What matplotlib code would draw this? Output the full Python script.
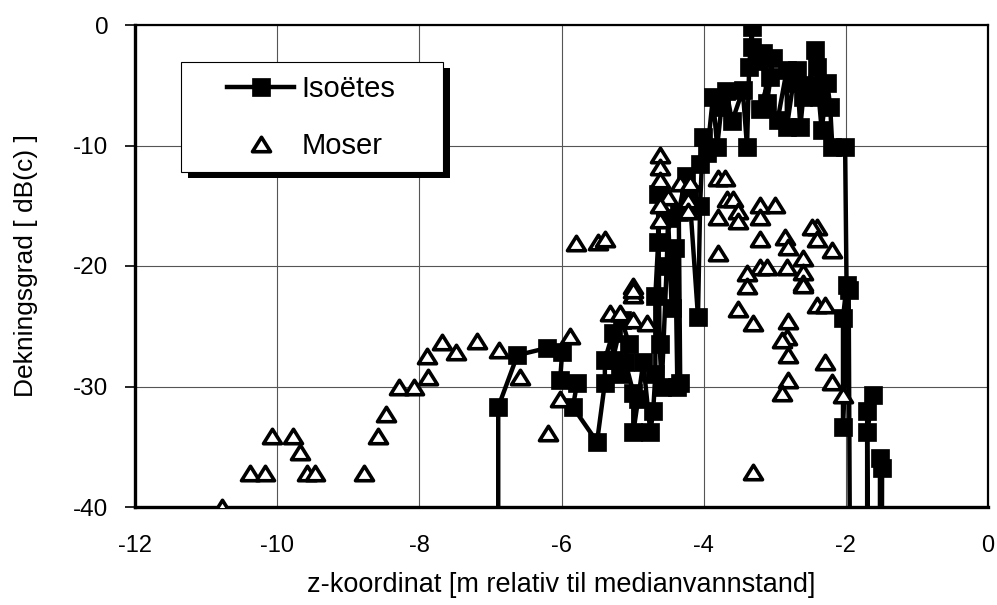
import matplotlib
matplotlib.use('Agg')
import matplotlib.pyplot as plt
import matplotlib.patches as mpatches
from matplotlib.path import Path

plt.rcParams['font.family'] = ['Liberation Sans', 'DejaVu Sans']
plt.rcParams['axes.unicode_minus'] = False

# Isoëtes (connected series, values below -40 run off the bottom of the axes)
iso_x = [-6.89, -6.89, -6.62, -6.20, -5.99, -6.02, -5.78, -5.84, -5.50, -5.39,
         -5.39, -5.28, -5.28, -5.15, -5.05, -5.18, -5.10, -4.99, -4.99, -4.92,
         -4.85, -4.75, -4.71, -4.68, -4.68, -4.64, -4.64, -4.62, -4.59, -4.52,
         -4.50, -4.45, -4.40, -4.37, -4.33, -4.35, -4.25, -4.20, -4.08, -4.05,
         -4.01, -4.05, -3.95, -3.87, -3.81, -3.75, -3.68, -3.60, -3.45, -3.39,
         -3.36, -3.32, -3.32, -3.22, -3.16, -3.11, -3.02, -3.07, -3.21, -2.96,
         -2.83, -2.83, -2.74, -2.69, -2.64, -2.60, -2.52, -2.43, -2.41, -2.38,
         -2.34, -2.26, -2.22, -2.19, -2.01, -1.99, -2.04, -2.04, -1.96, -1.93,
         -1.70, -1.70, -1.62, -1.70, -1.68, -1.52, -1.52, -1.49, -1.50]
iso_y = [-60.0, -31.7, -27.4, -26.8, -27.1, -29.5, -29.7, -31.7, -34.6, -29.7,
         -27.8, -25.6, -27.8, -24.5, -26.5, -29.0, -28.0, -30.5, -33.8, -31.0,
         -28.0, -33.8, -32.0, -29.0, -22.5, -18.0, -14.0, -26.5, -30.0, -20.0,
         -16.0, -23.5, -18.5, -30.0, -29.7, -15.5, -12.5, -14.0, -24.2, -15.0,
         -9.3, -11.5, -10.6, -6.0, -10.1, -6.8, -5.5, -8.0, -5.4, -10.1,
         -3.5, -0.2, -1.8, -3.0, -2.3, -6.5, -2.7, -4.3, -7.0, -7.9,
         -3.7, -8.5, -4.8, -3.7, -8.5, -6.0, -5.0, -2.1, -3.5, -6.0,
         -8.7, -4.8, -6.8, -10.1, -10.1, -21.6, -24.3, -33.4, -22.0, -60.0,
         -60.0, -32.0, -30.7, -33.8, -60.0, -60.0, -35.9, -36.8, -60.0]

# Moser (points only)
moser_x = [-10.78, -10.38, -10.17, -10.07, -9.78, -9.68, -9.58, -9.47, -8.78, -8.58,
           -8.47, -8.29, -8.07, -7.88, -7.89, -7.68, -7.49, -7.19, -6.88, -6.58,
           -6.19, -6.02, -5.88, -5.80, -5.49, -5.39, -5.32, -5.18, -4.99, -4.99,
           -4.80, -4.99, -4.61, -4.61, -4.61, -4.50, -4.61, -4.61, -4.33, -4.19,
           -4.22, -4.22, -3.80, -3.70, -3.67, -3.59, -3.52, -3.80, -3.52, -3.21,
           -3.00, -3.21, -3.21, -2.86, -2.81, -2.41, -2.48, -2.41, -2.19, -3.80,
           -3.21, -3.11, -3.39, -3.39, -2.83, -2.60, -2.60, -2.60, -4.99, -2.60,
           -3.52, -3.31, -2.41, -2.29, -2.81, -2.83, -2.90, -2.81, -2.29, -2.19,
           -2.81, -2.90, -3.31, -2.04]
moser_y = [-40.0, -37.2, -37.2, -34.1, -34.1, -35.4, -37.2, -37.2, -37.2, -34.1,
           -32.3, -30.0, -30.0, -29.2, -27.5, -26.3, -27.1, -26.2, -27.0, -29.2,
           -33.9, -31.0, -25.8, -18.1, -18.0, -17.8, -23.9, -23.9, -22.4, -24.5,
           -24.7, -21.7, -10.8, -11.8, -12.9, -14.3, -14.9, -16.2, -13.1, -13.1,
           -14.5, -15.4, -12.7, -12.7, -14.4, -14.4, -15.4, -15.9, -16.3, -14.9,
           -14.9, -15.9, -17.8, -17.6, -18.4, -16.8, -16.8, -17.8, -18.7, -18.9,
           -20.1, -20.1, -20.6, -21.7, -20.1, -19.3, -20.5, -21.4, -22.0, -21.6,
           -23.6, -24.7, -23.2, -23.2, -24.6, -25.9, -26.1, -27.4, -28.0, -29.6,
           -29.5, -30.5, -37.1, -30.7]

x_ticks = [-12, -10, -8, -6, -4, -2, 0]
y_ticks = [-40, -30, -20, -10, 0]

tri = Path([(-1, -0.8), (1, -0.8), (0, 0.8), (-1, -0.8)], closed=True)

fig = plt.figure(figsize=(9.97, 6.05), dpi=100)
ax = fig.add_axes([135 / 997, 1 - 507 / 605, 853 / 997, 482 / 605])

ax.plot(iso_x, iso_y, color='black', lw=3.2, marker='s', ms=12.5, mew=0.5,
        mec='black', mfc='black', label='Isoëtes', zorder=3)
ax.plot(moser_x, moser_y, ls='none', marker=tri, ms=13, mew=2.6,
        mec='black', mfc='white', label='Moser', zorder=4)

ax.set_xlim(-12, 0)
ax.set_ylim(-40, 0)
ax.set_xticks(x_ticks)
ax.set_yticks(y_ticks)
ax.grid(True, color='#555555', lw=0.8)
ax.set_axisbelow(True)
ax.tick_params(axis='x', length=0, pad=20, labelsize=17)
ax.tick_params(axis='y', length=7, width=1.2, pad=12, labelsize=17.5)
for s in ['left', 'bottom']:
    ax.spines[s].set_linewidth(2.4)
for s in ['top', 'right']:
    ax.spines[s].set_linewidth(1.6)

ax.set_xlabel('z-koordinat [m relativ til medianvannstand]', fontsize=19.5)
ax.xaxis.set_label_coords(0.5, -0.135)
ax.set_ylabel('Dekningsgrad [ dB(c) ]', fontsize=19, va='center')
ax.yaxis.set_label_coords(-0.128, 0.5)

# legend box with a solid shadow
bx, by, bw, bh = 0.054, 0.695, 0.307, 0.228
ax.add_patch(mpatches.Rectangle((bx + 7 / 853, by - 6 / 482), bw, bh, transform=ax.transAxes,
                                facecolor='black', edgecolor='none', zorder=5))
ax.add_patch(mpatches.Rectangle((bx, by), bw, bh, transform=ax.transAxes,
                                facecolor='white', edgecolor='black', lw=0.8, zorder=5.5))
leg = ax.legend(loc='center left', bbox_to_anchor=(0.1079, 0.808), frameon=False,
                fontsize=21, handlelength=2.3, handletextpad=0.25, labelspacing=1.0,
                borderpad=0, borderaxespad=0, numpoints=1)
leg.set_zorder(6)

plt.savefig('out.png', dpi=100)
